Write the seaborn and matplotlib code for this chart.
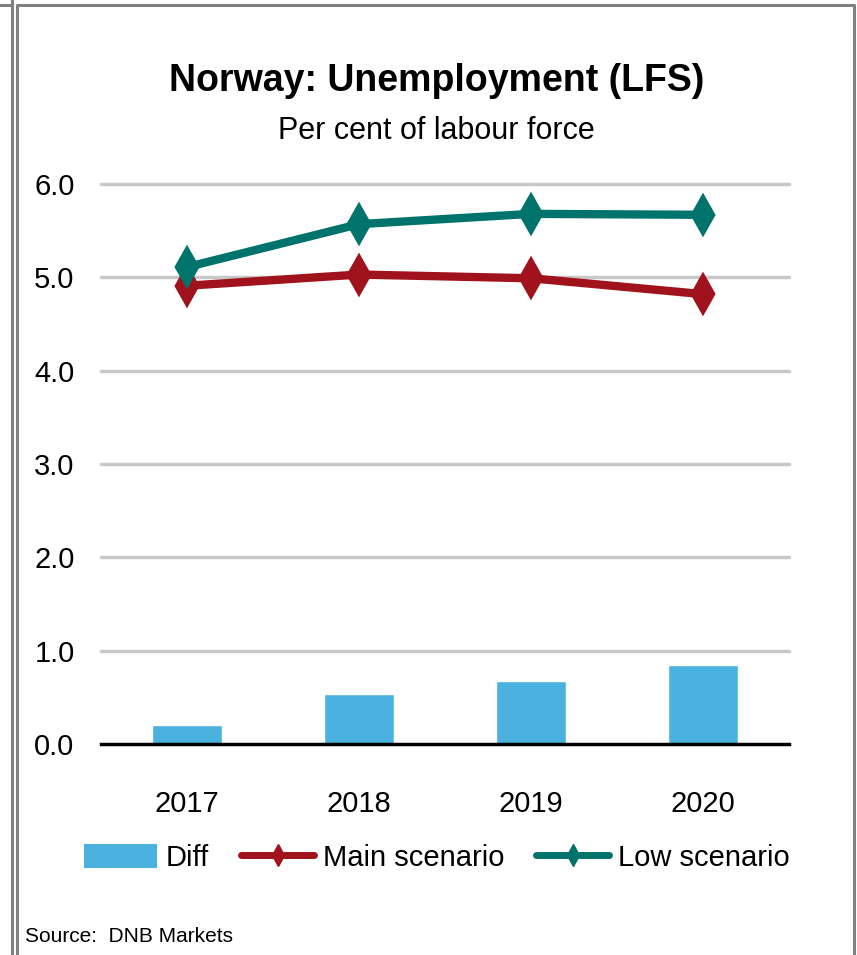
import matplotlib
matplotlib.use("Agg")
from matplotlib import pyplot as plt
from matplotlib.lines import Line2D
from matplotlib.patches import Patch
import seaborn as sns

# chart data
years = ["2017", "2018", "2019", "2020"]
diff = [0.20, 0.54, 0.67, 0.85]
main_scenario = [4.91, 5.03, 4.99, 4.82]
low_scenario = [5.11, 5.57, 5.68, 5.67]
y_ticks = [0, 1, 2, 3, 4, 5, 6]

BLUE = "#4BB1DF"
RED = "#A0121C"
TEAL = "#00736D"
GRID = "#C8C8C8"
FRAME = "#808080"

sns.set_theme(style="white")
plt.rcParams['font.family'] = ['Liberation Sans', 'DejaVu Sans']
plt.rcParams['text.color'] = 'black'
plt.rcParams['xtick.color'] = 'black'
plt.rcParams['ytick.color'] = 'black'

W, H = 857, 955
fig = plt.figure(figsize=(W / 100, H / 100), dpi=100)
ax = fig.add_axes([101 / W, (H - 744) / H, 688 / W, 560 / H])

# horizontal grid lines
for v in y_ticks[1:]:
    ax.axhline(v, color=GRID, linewidth=2.5, zorder=0, clip_on=False)

sns.barplot(x=years, y=diff, color=BLUE, width=0.41, saturation=1, ax=ax, zorder=2)
sns.pointplot(x=years, y=main_scenario, color=RED, marker="d", markersize=16,
              linewidth=6, errorbar=None, ax=ax, zorder=4)
sns.pointplot(x=years, y=low_scenario, color=TEAL, marker="d", markersize=16,
              linewidth=6, errorbar=None, ax=ax, zorder=5)

ax.set_xlim(-0.5, 3.5)
ax.set_ylim(0, 6)
ax.set_yticks(y_ticks)
ax.set_yticklabels([f"{v:.1f}" for v in y_ticks], fontsize=21)
ax.set_xticks(range(len(years)))
ax.set_xticklabels(years, fontsize=21)
ax.set_xticks([-0.5, 0.5, 1.5, 2.5, 3.5], minor=True)
ax.tick_params(axis="x", which="major", length=0, pad=33)
ax.tick_params(axis="x", which="minor", direction="in", length=9, width=2.5, color="black")
ax.tick_params(axis="y", length=0, pad=19)
ax.set_xlabel("")
ax.set_ylabel("")
for side in ["top", "left", "right"]:
    ax.spines[side].set_visible(False)
ax.spines["bottom"].set_color("black")
ax.spines["bottom"].set_linewidth(2.5)
ax.spines["bottom"].set_zorder(6)

fig.text(0.509, 1 - 81 / H, "Norway: Unemployment (LFS)", ha="center", va="center",
         fontsize=27, fontweight="bold")
fig.text(0.509, 1 - 131 / H, "Per cent of labour force", ha="center", va="center", fontsize=22)

handles = [
    Patch(facecolor=BLUE, edgecolor="none"),
    Line2D([0], [0], color=RED, linewidth=5, marker="d", markersize=11),
    Line2D([0], [0], color=TEAL, linewidth=5, marker="d", markersize=11),
]
fig.legend(handles, ["Diff", "Main scenario", "Low scenario"], loc="center",
           bbox_to_anchor=(437 / W, 1 - 858 / H), ncol=3, frameon=False, fontsize=21,
           handlelength=2.5, handleheight=0.9, handletextpad=0.3, columnspacing=1.1)

fig.text(25 / W, 1 - 936 / H, "Source:  DNB Markets", ha="left", va="center", fontsize=15)

# outer frame
frame_lines = [
    ([11.5, 11.5], [0, H]),
    ([0, 11.5], [5, 5]),
    ([16.5, 16.5], [5, H]),
    ([16.5, 854], [5, 5]),
    ([854, 854], [5, H]),
]
for xs, ys in frame_lines:
    fig.add_artist(Line2D([x / W for x in xs], [1 - y / H for y in ys],
                          color=FRAME, linewidth=2.2, transform=fig.transFigure))

fig.savefig("out.png", dpi=100)
